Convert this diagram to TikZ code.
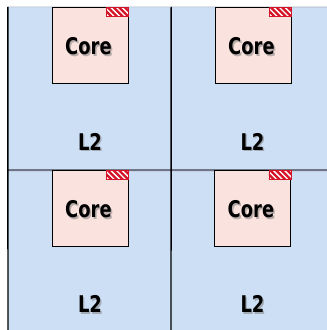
\documentclass[tikz,border=0pt]{standalone}
\usepackage{fontspec}
\newfontfamily\labelfont[FakeStretch=0.78]{DejaVu Sans}
\definecolor{l2blue}{RGB}{204,223,245}
\definecolor{corepink}{RGB}{250,227,223}
\definecolor{divgray}{RGB}{112,118,134}
\definecolor{hatchred}{RGB}{214,20,40}
\tikzset{
  quad/.style={minimum width=163pt,minimum height=163pt,inner sep=0pt,fill=l2blue},
  corebox/.style={minimum width=76pt,minimum height=76pt,inner sep=0pt,fill=corepink,draw=black,line width=0.9pt},
  lbl/.style={font=\labelfont\bfseries\fontsize{23}{23}\selectfont,text=black,inner sep=0pt},
  lblshadow/.style={font=\labelfont\bfseries\fontsize{23}{23}\selectfont,text=black!50,inner sep=0pt,opacity=0.55},
}
\begin{document}
\begin{tikzpicture}[x=1pt,y=-1pt]
\useasboundingbox (0,0) rectangle (327,330);
\clip (0,0) rectangle (327,330);
\fill[white] (0,0) rectangle (327,330);
% quadrants
\foreach \q/\cx/\cy in {tl/89.5/88.5, tr/252.5/88.5, bl/89.5/251.5, br/252.5/251.5}{
  \node[quad] (quad\q) at (\cx,\cy) {};
}
% dividers and borders
\draw[divgray!60,line width=0.6pt] (quadtl.north west) -- (327,7);
\draw[divgray,line width=2pt] (quadtl.south west) -- (327,170);
\draw[black,line width=1.4pt] (quadtl.north east) -- (171,330);
\draw[black,line width=1.4pt] (quadtl.north west) -- (8,330);
% cores
\foreach \q/\cx/\cy/\lx/\ly in {tl/90/45.5/90/141.5, tr/253/45.5/252.5/141.5, bl/90/208.5/90/304, br/252.5/208.5/252.5/304}{
  \node[corebox] (core\q) at (\cx,\cy) {};
  \begin{scope}
    \clip ([xshift=-22pt]core\q.north east) rectangle ([yshift=-9pt]core\q.north east);
    \fill[white] ([xshift=-22pt]core\q.north east) rectangle ([yshift=-9pt]core\q.north east);
    \foreach \i in {0,...,6}{
      \draw[hatchred,line width=2.3pt] ([xshift=-32pt+\i*5.6pt]core\q.north east) -- ++(10,10);
    }
  \end{scope}
  \draw[hatchred,line width=0.5pt] ([xshift=-22pt]core\q.north east) rectangle ([yshift=-9pt]core\q.north east);
  \node[lblshadow] (coreshadow\q) at ([xshift=0pt,yshift=-2.3pt]core\q.center) {Core};
  \node[lbl] (coretext\q) at ([xshift=-1.5pt,yshift=-0.8pt]core\q.center) {Core};
  \node[lblshadow] (l2shadow\q) at (\lx+1.3,\ly+1.6) {L2};
  \node[lbl] (l2text\q) at (\lx,\ly) {L2};
}
\end{tikzpicture}
\end{document}
